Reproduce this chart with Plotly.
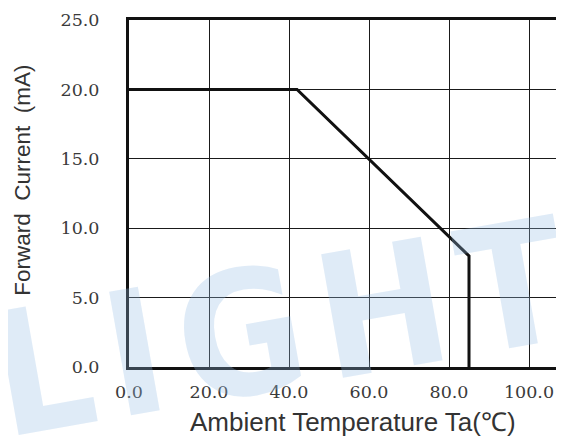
import plotly.graph_objects as go

# Derating curve data
temperature = [0, 42, 85, 85]
forward_current = [20, 20, 8, 0]

x_ticks = [0, 20, 40, 60, 80, 100]
x_tick_labels = ["0.0", "20.0", "40.0", "60.0", "80.0", "100.0"]
y_ticks = [0, 5, 10, 15, 20, 25]
y_tick_labels = ["0.0", "5.0", "10.0", "15.0", "20.0", "25.0"]

fig = go.Figure()
fig.add_trace(go.Scatter(
    x=temperature, y=forward_current, mode="lines",
    line=dict(color="#111111", width=3), showlegend=False, hoverinfo="skip"))

tick_font = dict(family="DejaVu Serif", size=17.5, color="#3a3a3a")

fig.update_layout(
    width=564, height=441,
    margin=dict(l=121, r=8, t=12, b=82),
    paper_bgcolor="white", plot_bgcolor="white",
    xaxis=dict(
        range=[0, 108.75], tickvals=x_ticks, ticktext=x_tick_labels,
        showgrid=True, gridcolor="#1a1a1a", gridwidth=1.3,
        showline=True, linecolor="#111111", linewidth=3, mirror=True,
        zeroline=False, ticks="", tickfont=tick_font, ticklabelstandoff=7,
        automargin=False,
    ),
    yaxis=dict(
        range=[0, 25], tickvals=y_ticks, ticktext=y_tick_labels,
        showgrid=True, gridcolor="#1a1a1a", gridwidth=1.3,
        showline=True, linecolor="#111111", linewidth=3, mirror=False,
        zeroline=False, ticks="", tickfont=tick_font, ticklabelstandoff=23,
        automargin=False,
    ),
)

# axis titles
fig.add_annotation(
    text="Ambient Temperature Ta(℃)", xref="paper", yref="paper",
    x=0.515, y=-0.158, xanchor="center", yanchor="middle", showarrow=False,
    font=dict(family="Liberation Sans", size=26, color="#333333"))
fig.add_annotation(
    text="Forward  Current  (mA)", xref="paper", yref="paper",
    x=-0.244, y=0.539, xanchor="center", yanchor="middle", showarrow=False,
    textangle=-90,
    font=dict(family="Liberation Sans", size=22.5, color="#333333"))

# faint watermark
fig.add_annotation(
    text="<b>L\u200aI\u200aG\u200aH\u200aT</b>", xref="paper", yref="paper", x=0.347, y=0.11,
    xanchor="center", yanchor="middle",
    showarrow=False, textangle=-10,
    font=dict(family="DejaVu Sans Condensed", size=172, color="rgba(150,190,230,0.30)"),
)

fig.write_html("out.html")
